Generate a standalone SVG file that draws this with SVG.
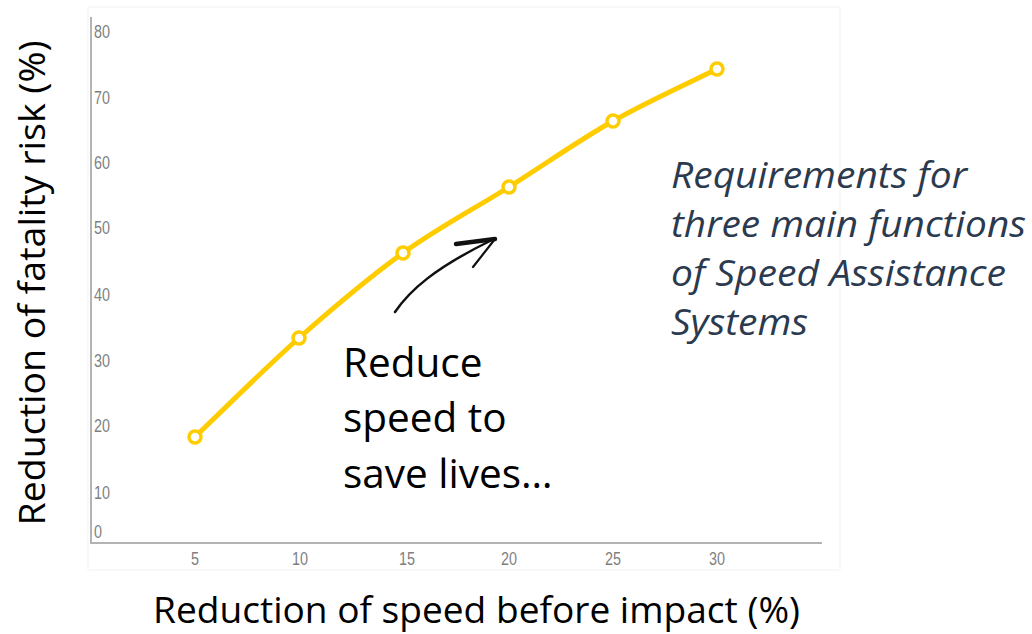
<svg xmlns="http://www.w3.org/2000/svg" width="1032" height="634" viewBox="0 0 1032 634">
  <style>
    .tick { font-family: "Liberation Sans", Arial, sans-serif; font-size: 18px; fill: #7F7F7F; }
    .axlab { font-family: "Open Sans", "Liberation Sans", sans-serif; font-size: 37px; fill: #000000; }
    .note { font-family: "Open Sans", "Liberation Sans", sans-serif; font-size: 40.5px; fill: #000000; }
    .req { font-family: "Open Sans", "Liberation Sans", sans-serif; font-size: 36px; font-style: italic; fill: #2B3A4E; }
    .axis { stroke: #B3B3B3; stroke-width: 2; fill: none; }
    .series { stroke: #FFCC00; stroke-width: 5; fill: none; stroke-linejoin: round; }
    .pt { fill: #FFFFFF; stroke: #FFCC00; stroke-width: 3.5; }
  </style>
  <rect width="1032" height="634" fill="#FFFFFF"/>
  <g id="frame">
    <rect x="88" y="7" width="752" height="563" fill="none" stroke="#F3F3F3" stroke-width="1"/>
  </g>
  <g id="axes">
    <line class="axis" x1="91" y1="17" x2="91" y2="543"/>
    <line class="axis" x1="90" y1="543" x2="822" y2="543"/>
  </g>
  <g id="y-ticks">
    <text class="tick" x="94" y="38" textLength="16" lengthAdjust="spacingAndGlyphs">80</text>
    <text class="tick" x="94" y="104" textLength="16" lengthAdjust="spacingAndGlyphs">70</text>
    <text class="tick" x="94" y="169" textLength="16" lengthAdjust="spacingAndGlyphs">60</text>
    <text class="tick" x="94" y="234" textLength="16" lengthAdjust="spacingAndGlyphs">50</text>
    <text class="tick" x="94" y="301" textLength="16" lengthAdjust="spacingAndGlyphs">40</text>
    <text class="tick" x="94" y="367" textLength="16" lengthAdjust="spacingAndGlyphs">30</text>
    <text class="tick" x="94" y="432" textLength="16" lengthAdjust="spacingAndGlyphs">20</text>
    <text class="tick" x="94" y="499" textLength="16" lengthAdjust="spacingAndGlyphs">10</text>
    <text class="tick" x="94" y="538" textLength="8" lengthAdjust="spacingAndGlyphs">0</text>
  </g>
  <g id="x-ticks">
    <text class="tick" x="191" y="565" textLength="8" lengthAdjust="spacingAndGlyphs">5</text>
    <text class="tick" x="292" y="565" textLength="16" lengthAdjust="spacingAndGlyphs">10</text>
    <text class="tick" x="399" y="565" textLength="16" lengthAdjust="spacingAndGlyphs">15</text>
    <text class="tick" x="501" y="565" textLength="16" lengthAdjust="spacingAndGlyphs">20</text>
    <text class="tick" x="605" y="565" textLength="16" lengthAdjust="spacingAndGlyphs">25</text>
    <text class="tick" x="709" y="565" textLength="16" lengthAdjust="spacingAndGlyphs">30</text>
  </g>
  <g id="series">
    <path class="series" d="M195,437 C212.3,420.5 264.3,368.7 299,338 C333.7,307.3 368,278.2 403,253 C438,227.8 474,209 509,187 C544,165 578.3,140.7 613,121 C647.7,101.3 699.7,77.7 717,69"/>
    <circle class="pt" cx="195" cy="437" r="6"/>
    <circle class="pt" cx="299" cy="338" r="6"/>
    <circle class="pt" cx="403" cy="253" r="6"/>
    <circle class="pt" cx="509" cy="187" r="6"/>
    <circle class="pt" cx="613" cy="121" r="6"/>
    <circle class="pt" cx="717" cy="69" r="6"/>
  </g>
  <g id="connectors">
    <path d="M395,312 C410,290 435,268 490,241" fill="none" stroke="#111111" stroke-width="2.5" stroke-linecap="round"/>
    <path d="M456,244 L495,239" fill="none" stroke="#111111" stroke-width="4.5" stroke-linecap="round"/>
    <path d="M495,239 L473,267" fill="none" stroke="#111111" stroke-width="2.2" stroke-linecap="round"/>
  </g>
  <g id="y-axis-label">
    <text class="axlab" transform="translate(45,283) rotate(-90)" text-anchor="middle" textLength="485" lengthAdjust="spacingAndGlyphs">Reduction of fatality risk (%)</text>
  </g>
  <g id="x-axis-label">
    <text class="axlab" x="153" y="623" textLength="647" lengthAdjust="spacingAndGlyphs">Reduction of speed before impact (%)</text>
  </g>
  <g id="note">
    <text class="note" x="343" y="377">Reduce</text>
    <text class="note" x="343" y="432">speed to</text>
    <text class="note" x="343" y="488">save lives…</text>
  </g>
  <g id="requirements">
    <text class="req" x="671" y="188" textLength="296" lengthAdjust="spacingAndGlyphs">Requirements for</text>
    <text class="req" x="671" y="237" textLength="355" lengthAdjust="spacingAndGlyphs">three main functions</text>
    <text class="req" x="671" y="286" textLength="335" lengthAdjust="spacingAndGlyphs">of Speed Assistance</text>
    <text class="req" x="671" y="335" textLength="137" lengthAdjust="spacingAndGlyphs">Systems</text>
  </g>
</svg>
